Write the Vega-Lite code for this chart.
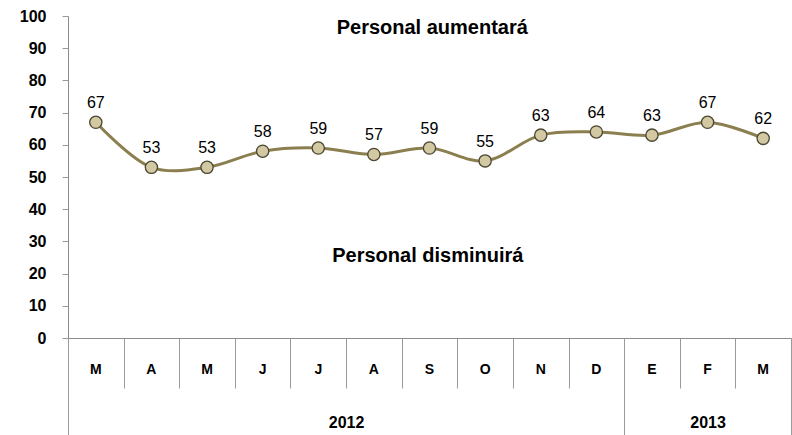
{
  "$schema": "https://vega.github.io/schema/vega-lite/v6.json",
  "width": 723,
  "height": 322,
  "autosize": "none",
  "padding": {"left": 68, "top": 16, "right": 1, "bottom": 97},
  "config": {
    "view": {"stroke": null},
    "font": "Liberation Sans",
    "axis": {"domainColor": "#8c8c8c", "tickColor": "#9a9a9a", "grid": false, "labelFont": "Liberation Sans", "labelColor": "#000000", "labelFontSize": 14, "labelFontWeight": "bold"},
    "axisY": {"values": [0, 10, 20, 30, 40, 50, 60, 70, 80, 90, 100], "tickSize": 6, "labelPadding": 16, "labelFontSize": 16}
  },
  "resolve": {"scale": {"x": "independent"}, "axis": {"x": "independent"}},
  "layer": [
    {
      "data": {"values": [
        {"periodo": "01M", "valor": 67},
        {"periodo": "02A", "valor": 53},
        {"periodo": "03M", "valor": 53},
        {"periodo": "04J", "valor": 58},
        {"periodo": "05J", "valor": 59},
        {"periodo": "06A", "valor": 57},
        {"periodo": "07S", "valor": 59},
        {"periodo": "08O", "valor": 55},
        {"periodo": "09N", "valor": 63},
        {"periodo": "10D", "valor": 64},
        {"periodo": "11E", "valor": 63},
        {"periodo": "12F", "valor": 67},
        {"periodo": "13M", "valor": 62}
      ]},
      "encoding": {
        "x": {
          "field": "periodo", "type": "ordinal", "title": null,
          "scale": {"type": "band", "paddingInner": 0, "paddingOuter": 0},
          "axis": {"orient": "bottom", "ticks": false, "domain": false, "labelAngle": 0, "labelPadding": 24, "labelFontSize": 14, "labelExpr": "substring(datum.value, 2)"}
        },
        "y": {"field": "valor", "type": "quantitative", "title": null, "scale": {"domain": [0, 100], "nice": false}}
      },
      "layer": [
        {"mark": {"type": "line", "interpolate": "catmull-rom", "color": "#8b7f4f", "strokeWidth": 3}},
        {"mark": {"type": "point", "shape": "circle", "filled": true, "size": 150, "fill": "#d2c9a2", "stroke": "#4a4632", "strokeWidth": 1.3, "opacity": 1}},
        {"mark": {"type": "text", "dy": -19, "fontSize": 16, "color": "#000000"}, "encoding": {"text": {"field": "valor", "type": "quantitative"}}}
      ]
    },
    {
      "mark": {"type": "rule", "strokeDash": [7, 5], "color": "#000000", "strokeWidth": 1.3},
      "encoding": {
        "x": {"datum": 0, "type": "quantitative", "title": null,
          "scale": {"domain": [0, 13], "nice": false, "zero": false},
          "axis": {"orient": "bottom", "values": [0, 1, 2, 3, 4, 5, 6, 7, 8, 9, 10, 11, 12, 13], "tickSize": 50, "labels": false, "domain": true}},
        "x2": {"datum": 13},
        "y": {"datum": 49.5, "type": "quantitative", "title": null}
      }
    },
    {
      "data": {"values": [
        {"anio": "2012", "inicio": 0, "fin": 10},
        {"anio": "2013", "inicio": 10, "fin": 13}
      ]},
      "mark": {"type": "rect", "opacity": 0},
      "encoding": {
        "x": {"field": "inicio", "type": "quantitative", "title": null,
          "scale": {"domain": [0, 13], "nice": false, "zero": false},
          "axis": {"orient": "bottom", "values": [0, 10, 13], "tickSize": 97, "labels": false, "domain": false}},
        "x2": {"field": "fin"},
        "y": {"datum": 0, "type": "quantitative", "title": null},
        "y2": {"datum": 0}
      }
    },
    {
      "data": {"values": [
        {"texto": "Personal aumentará", "px": 6.55, "py": 96.2},
        {"texto": "Personal disminuirá", "px": 6.47, "py": 25.5}
      ]},
      "mark": {"type": "text", "fontSize": 20, "fontWeight": "bold", "color": "#000000"},
      "encoding": {
        "x": {"field": "px", "type": "quantitative", "title": null,
          "scale": {"domain": [0, 13], "nice": false, "zero": false},
          "axis": {"orient": "bottom", "values": [5, 11.5], "ticks": false, "domain": false, "labelPadding": 76, "labelFontSize": 16, "labelFlush": false, "labelOverlap": false,
            "labelExpr": "datum.value == 5 ? '2012' : '2013'"}},
        "y": {"field": "py", "type": "quantitative", "title": null},
        "text": {"field": "texto"}
      }
    }
  ]
}
